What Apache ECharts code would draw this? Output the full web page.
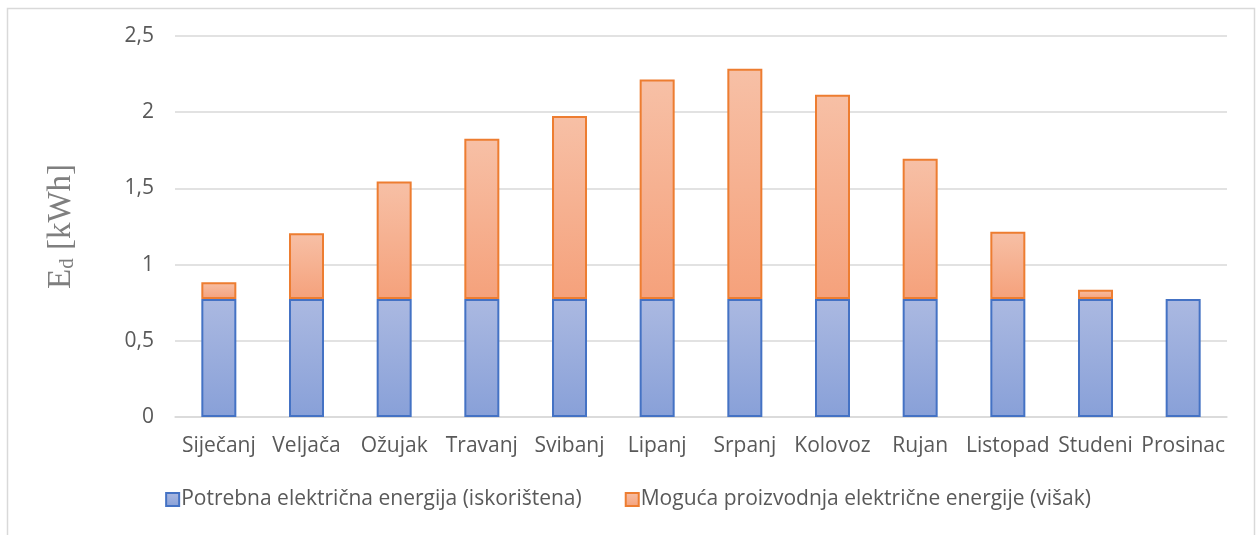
<!DOCTYPE html>
<html>
<head>
<meta charset="utf-8">
<script src="https://cdn.jsdelivr.net/npm/echarts@6/dist/echarts.min.js"></script>
<style>
  html, body { margin: 0; padding: 0; background: #fff; }
  #chart { width: 1256px; height: 535px; }
</style>
</head>
<body>
<div id="chart"></div>
<script>
// Monthly daily energy: required (used) and surplus production, kWh
const months = ['Siječanj', 'Veljača', 'Ožujak', 'Travanj', 'Svibanj', 'Lipanj',
                'Srpanj', 'Kolovoz', 'Rujan', 'Listopad', 'Studeni', 'Prosinac'];
const usedEnergy = [0.775, 0.775, 0.775, 0.775, 0.775, 0.775, 0.775, 0.775, 0.775, 0.775, 0.775, 0.775];
const surplusEnergy = [0.11, 0.43, 0.77, 1.05, 1.20, 1.44, 1.51, 1.34, 0.92, 0.44, 0.06, 0];
const yTicks = [0, 0.5, 1, 1.5, 2, 2.5];
const seriesNames = ['Potrebna električna energija (iskorištena)',
                     'Moguća proizvodnja električne energije (višak)'];

const chart = echarts.init(document.getElementById('chart'), null, { renderer: 'canvas' });
const labelFont = '"Open Sans", "Noto Sans", sans-serif';

const blueFill = new echarts.graphic.LinearGradient(0, 0, 0, 1, [
  { offset: 0, color: '#abb9e1' }, { offset: 1, color: '#88a0d8' }
]);
const orangeFill = new echarts.graphic.LinearGradient(0, 0, 0, 1, [
  { offset: 0, color: '#f7c0a6' }, { offset: 1, color: '#f5a17b' }
]);

chart.setOption({
  animation: false,
  backgroundColor: '#ffffff',
  graphic: [{
    type: 'rect',
    shape: { x: 7.5, y: 8.5, width: 1247, height: 540 },
    style: { fill: 'none', stroke: '#d9d9d9', lineWidth: 1.5 },
    silent: true
  }],
  grid: { left: 175, right: 29, top: 36, bottom: 118 },
  legend: {
    bottom: 20,
    left: 'center',
    itemWidth: 13,
    itemHeight: 13,
    itemGap: 43,
    icon: 'rect',
    textStyle: { color: '#595959', fontSize: 21, fontFamily: labelFont, padding: [0, 0, 0, -3] },
    data: seriesNames
  },
  xAxis: {
    type: 'category',
    data: months,
    axisLine: { show: true, lineStyle: { color: '#d9d9d9', width: 1.5 } },
    axisTick: { show: false },
    axisLabel: { color: '#595959', fontSize: 21, fontFamily: labelFont, margin: 19, interval: 0 }
  },
  yAxis: {
    type: 'value',
    min: 0,
    max: 2.5,
    interval: 0.5,
    name: '{e|E}{d|d}{e| [kWh]}',
    nameLocation: 'middle',
    nameGap: 97,
    nameRotate: 90,
    nameTextStyle: {
      rich: {
        e: { fontFamily: '"Liberation Serif", serif', fontSize: 33, color: '#7f7f7f' },
        d: { fontFamily: '"Liberation Serif", serif', fontSize: 21, color: '#7f7f7f', verticalAlign: 'bottom', padding: [12, 0, 0, 0] }
      }
    },
    axisLine: { show: false },
    axisTick: { show: false },
    splitLine: { lineStyle: { color: '#d9d9d9', width: 1.5 } },
    axisLabel: {
      color: '#595959', fontSize: 21, fontFamily: labelFont, margin: 21,
      formatter: v => yTicks.includes(v) ? String(v).replace('.', ',') : ''
    }
  },
  series: [
    {
      name: seriesNames[0],
      type: 'bar',
      stack: 'e',
      barWidth: 35,
      data: usedEnergy,
      itemStyle: { color: blueFill, borderColor: '#4472c4', borderWidth: 2 }
    },
    {
      name: seriesNames[1],
      type: 'bar',
      stack: 'e',
      barWidth: 35,
      data: surplusEnergy.map(v => v === 0 ? null : v),
      itemStyle: { color: orangeFill, borderColor: '#ed7d31', borderWidth: 2 }
    }
  ]
});
</script>
</body>
</html>
